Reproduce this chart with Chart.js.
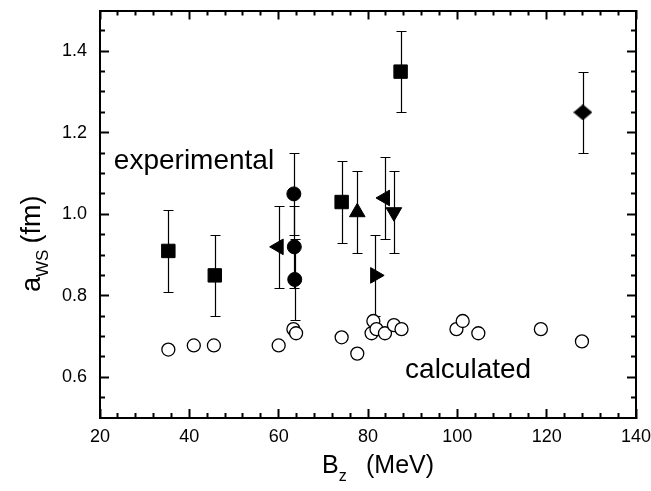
<!DOCTYPE html>
<html>
<head>
<meta charset="utf-8">
<script src="https://cdn.jsdelivr.net/npm/chart.js@4.4.0/dist/chart.umd.min.js"></script>
<style>
  html, body { margin: 0; padding: 0; background: #fff; }
  #wrap { width: 651px; height: 491px; }
</style>
</head>
<body>
<div id="wrap"><canvas id="chart"></canvas></div>
<script>
// ===================
// Data
// ===================
const calcB = [35.3, 41.0, 45.5, 60.0, 63.3, 63.9, 74.1, 77.6, 81.2, 80.8, 81.9, 83.8, 85.8, 87.5, 99.8, 101.2, 104.7, 118.7, 127.9];
const calcA = [0.668, 0.678, 0.678, 0.678, 0.718, 0.708, 0.698, 0.658, 0.738, 0.708, 0.718, 0.708, 0.728, 0.718, 0.718, 0.738, 0.708, 0.718, 0.688];

const squareB = [35.3, 45.7, 74.1, 87.3];
const squareA = [0.91, 0.85, 1.03, 1.35];
const squareErr = [0.1, 0.1, 0.1, 0.1];

const circleB = [63.4, 63.5, 63.6];
const circleA = [1.05, 0.92, 0.84];
const circleErr = [0.1, 0.1, 0.1];

const leftTriB = [60.0, 83.8];
const leftTriA = [0.92, 1.04];
const leftTriErr = [0.1, 0.1];

const upTriB = [77.6];
const upTriA = [1.005];
const upTriErr = [0.1];

const downTriB = [85.8];
const downTriA = [1.005];
const downTriErr = [0.1];

const rightTriB = [81.6];
const rightTriA = [0.85];
const rightTriErr = [0.1];

const diamondB = [128.1];
const diamondA = [1.25];
const diamondErr = [0.1];

const xTicks = [20, 40, 60, 80, 100, 120, 140];
const xMinorTicks = [24, 28, 32, 36, 44, 48, 52, 56, 64, 68, 72, 76, 84, 88, 92, 96, 104, 108, 112, 116, 124, 128, 132, 136];
const yTicks = [0.6, 0.8, 1.0, 1.2, 1.4];
const yMinorTicks = [0.55, 0.65, 0.7, 0.75, 0.85, 0.9, 0.95, 1.05, 1.1, 1.15, 1.25, 1.3, 1.35, 1.45];

const FONT = '"Liberation Sans", Arial, sans-serif';

// ===================
// Helpers
// ===================
const pts = (xs, ys) => xs.map((v, i) => ({ x: v, y: ys[i] }));

function marker(label, xs, ys, err, style, radius, rotation) {
  return {
    label: label,
    data: pts(xs, ys),
    err: err,
    pointStyle: style,
    pointRadius: radius,
    pointRotation: rotation || 0,
    pointBackgroundColor: '#000',
    pointBorderColor: '#000',
    pointBorderWidth: 1,
    pointHoverRadius: radius
  };
}

// wide diamond marker (the figure's diamond is wider than tall)
function diamondImage(w, h) {
  const c = document.createElement('canvas');
  c.width = w; c.height = h;
  const g = c.getContext('2d');
  g.fillStyle = '#000';
  g.beginPath();
  g.moveTo(w / 2, 0); g.lineTo(w, h / 2); g.lineTo(w / 2, h); g.lineTo(0, h / 2);
  g.closePath();
  g.fill();
  return c;
}

// no extra layout padding from tick labels, fixed size
function fixSize(s, size) {
  if (s.isHorizontal()) s.height = size; else s.width = size;
  s.paddingTop = s.paddingBottom = s.paddingLeft = s.paddingRight = 0;
}

// tick-only axis (inward ticks, no labels)
function tickAxis(pos, vals, len, withBorder) {
  const horiz = pos === 'top' || pos === 'bottom';
  return {
    type: 'linear',
    position: pos,
    min: horiz ? 20 : 0.5,
    max: horiz ? 140 : 1.5,
    weight: 0,
    afterBuildTicks: s => { s.ticks = vals.map(v => ({ value: v })); },
    afterFit: s => fixSize(s, 0),
    grid: { drawOnChartArea: false, drawTicks: true, tickLength: -len, tickWidth: 2, tickColor: '#000' },
    border: { display: withBorder, color: '#000', width: 2 },
    ticks: { display: false }
  };
}

// ===================
// Error bars, notes, axis titles
// ===================
const extras = {
  id: 'extras',
  beforeDatasetsDraw(chart) {
    const { ctx } = chart;
    const x = chart.scales.x, y = chart.scales.y;
    ctx.save();
    ctx.strokeStyle = '#000';
    ctx.lineWidth = 1.2;
    chart.data.datasets.forEach(ds => {
      if (!ds.err) return;
      ds.data.forEach((p, i) => {
        const px = Math.round(x.getPixelForValue(p.x)) + 0.5;
        const top = Math.round(y.getPixelForValue(p.y + ds.err[i])) + 0.5;
        const bot = Math.round(y.getPixelForValue(p.y - ds.err[i])) + 0.5;
        ctx.beginPath();
        ctx.moveTo(px, top); ctx.lineTo(px, bot);
        ctx.moveTo(px - 5, top); ctx.lineTo(px + 5, top);
        ctx.moveTo(px - 5, bot); ctx.lineTo(px + 5, bot);
        ctx.stroke();
      });
    });
    ctx.restore();
  },
  afterDraw(chart) {
    const { ctx } = chart;
    const x = chart.scales.x, y = chart.scales.y;
    ctx.save();
    ctx.fillStyle = '#000';
    ctx.textBaseline = 'alphabetic';
    ctx.textAlign = 'left';

    // notes inside the plot
    ctx.font = '28px ' + FONT;
    ctx.fillText('experimental', x.getPixelForValue(23.1), y.getPixelForValue(1.11));
    ctx.fillText('calculated', x.getPixelForValue(88.3), y.getPixelForValue(0.5976));

    // x title: B_z (MeV)
    let tx = 322, ty = 473;
    ctx.font = '25px ' + FONT;
    ctx.fillText('B', tx, ty);
    tx += ctx.measureText('B').width;
    ctx.font = '16px ' + FONT;
    ctx.fillText('z', tx, ty + 8);
    ctx.font = '25px ' + FONT;
    ctx.fillText('(MeV)', 366, ty);

    // y title: a_ws (fm), rotated
    ctx.translate(40, 292);
    ctx.rotate(-Math.PI / 2);
    ctx.font = '27px ' + FONT;
    let ox = 0;
    ctx.fillText('a', ox, 0);
    ox += ctx.measureText('a').width;
    ctx.font = '17px ' + FONT;
    ctx.fillText('WS', ox, 8);
    ox += ctx.measureText('WS').width + 6;
    ctx.font = '27px ' + FONT;
    ctx.fillText('(fm)', ox, 0);
    ctx.restore();
  }
};

// ===================
// Chart
// ===================
const ctx = document.getElementById('chart').getContext('2d');

new Chart(ctx, {
  type: 'scatter',
  data: {
    datasets: [
      {
        label: 'calculated',
        data: pts(calcB, calcA),
        pointStyle: 'circle',
        pointRadius: 6.5,
        pointHoverRadius: 6.5,
        pointBorderWidth: 1.3,
        pointBorderColor: '#000',
        pointBackgroundColor: '#fff'
      },
      marker('squares', squareB, squareA, squareErr, 'rect', 9.5),
      marker('circles', circleB, circleA, circleErr, 'circle', 7),
      marker('left triangles', leftTriB, leftTriA, leftTriErr, 'triangle', 9, -90),
      marker('up triangles', upTriB, upTriA, upTriErr, 'triangle', 9, 0),
      marker('down triangles', downTriB, downTriA, downTriErr, 'triangle', 9, 180),
      marker('right triangles', rightTriB, rightTriA, rightTriErr, 'triangle', 9, 90),
      marker('diamond', diamondB, diamondA, diamondErr, diamondImage(19, 16), 9)
    ]
  },
  options: {
    responsive: true,
    maintainAspectRatio: false,
    animation: false,
    layout: { padding: { top: 8, right: 15, left: 0, bottom: 0 } },
    plugins: {
      legend: { display: false },
      tooltip: { enabled: false }
    },
    scales: {
      x: {
        type: 'linear',
        position: 'bottom',
        min: 20,
        max: 140,
        weight: 1,
        afterBuildTicks: s => { s.ticks = xTicks.map(v => ({ value: v })); },
        afterFit: s => fixSize(s, 73),
        grid: { drawOnChartArea: false, drawTicks: true, tickLength: -9, tickWidth: 2, tickColor: '#000' },
        border: { display: true, color: '#000', width: 2 },
        ticks: {
          autoSkip: false,
          maxRotation: 0,
          padding: 17,
          color: '#000',
          font: { family: FONT, size: 18 },
          callback: v => String(v)
        }
      },
      xMinor: tickAxis('bottom', xMinorTicks, 5, false),
      xTop: tickAxis('top', xTicks, 9, true),
      xTopMinor: tickAxis('top', xMinorTicks, 5, false),
      y: {
        type: 'linear',
        position: 'left',
        min: 0.5,
        max: 1.5,
        weight: 1,
        afterBuildTicks: s => { s.ticks = yTicks.map(v => ({ value: v })); },
        afterFit: s => fixSize(s, 100),
        grid: { drawOnChartArea: false, drawTicks: true, tickLength: -9, tickWidth: 2, tickColor: '#000' },
        border: { display: true, color: '#000', width: 2 },
        ticks: {
          autoSkip: false,
          padding: 22,
          color: '#000',
          font: { family: FONT, size: 18 },
          callback: v => v.toFixed(1)
        }
      },
      yMinor: tickAxis('left', yMinorTicks, 5, false),
      yRight: tickAxis('right', yTicks, 9, true),
      yRightMinor: tickAxis('right', yMinorTicks, 5, false)
    }
  },
  plugins: [extras]
});
</script>
</body>
</html>
